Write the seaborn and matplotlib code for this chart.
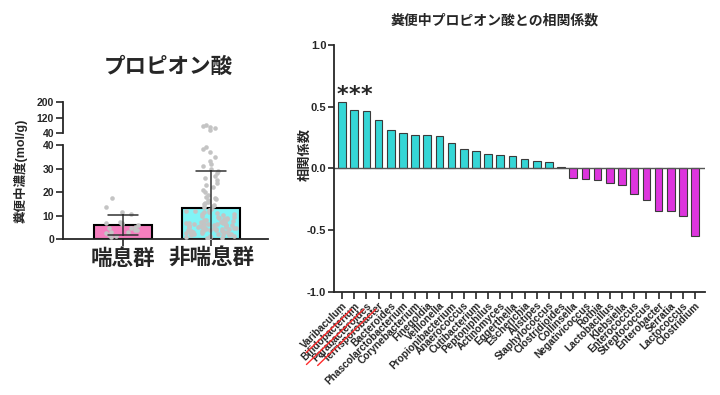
import numpy as np
import pandas as pd
import matplotlib
matplotlib.use("Agg")
import matplotlib.pyplot as plt
from matplotlib.lines import Line2D
import seaborn as sns

#########################
# data : propionate concentration (left panel)
groups = ["喘息群", "非喘息群"]
asthma = [17.4, 13.8, 11.4, 10.8, 7.2, 7.0, 6.8, 6.5, 6.0, 5.0,
          4.5, 4.5, 4.0, 3.8, 3.0, 2.8, 2.5, 1.5, 1.2, 0.8]
non_asthma = [82.0, 77.0, 71.0, 65.0, 58.0,
              39.5, 38.5, 37.0, 35.0, 33.5, 32.0, 31.0, 30.0, 29.0,
              28.0, 27.0, 26.0, 25.0, 24.0, 23.0, 22.0, 21.0, 20.0, 19.0, 18.0,
              17.5, 17.0, 16.5, 16.0, 15.5, 15.0, 14.5, 14.0, 13.5, 13.0, 12.5, 12.0, 12.0,
              0.3, 0.5, 0.6, 0.8, 1.0, 1.1, 1.3, 1.5, 1.6, 1.8,
              2.0, 2.1, 2.2, 2.3, 2.4, 2.6, 2.7, 2.9, 3.0, 3.1,
              3.2, 3.3, 3.4, 3.5, 3.6, 3.8, 3.9, 4.0, 4.1, 4.2,
              4.3, 4.4, 4.5, 4.6, 4.7, 4.8, 5.0, 5.1, 5.2, 5.3,
              5.4, 5.5, 5.6, 5.7, 5.8, 5.9, 6.0, 6.1, 6.2, 6.3,
              6.4, 6.5, 6.7, 6.8, 7.0, 7.1, 7.3, 7.4, 7.6, 7.8,
              8.0, 8.2, 8.4, 8.6, 8.8, 9.0, 9.3, 9.6, 9.9, 10.2,
              10.5, 10.8, 11.1, 11.4, 11.7]

# data : correlation with propionate (right panel)
genera = ["Varibaculum", "Bifidobacterium", "Parabacteroides", "Terrisporobacter",
          "Bacteroides", "Phascolarctobacterium", "Corynebacterium", "Finegoldia",
          "Veillonella", "Propionibacterium", "Anaerococcus", "Cutibacterium",
          "Peptoniphilus", "Actinomyces", "Eggerthella", "Escherichia", "Alistipes",
          "Staphylococcus", "Clostridioides", "Collinsella", "Negativicoccus", "Rothia",
          "Lactobacillus", "Klebsiella", "Enterococcus", "Streptococcus", "Enterobacter",
          "Serratia", "Lactococcus", "Clostridium"]
corr = [0.535, 0.476, 0.467, 0.394, 0.312, 0.288, 0.272, 0.269, 0.266, 0.209,
        0.160, 0.144, 0.120, 0.109, 0.098, 0.076, 0.062, 0.054, 0.012,
        -0.081, -0.089, -0.094, -0.116, -0.132, -0.210, -0.258, -0.347, -0.347,
        -0.382, -0.548]
starred = ["Varibaculum", "Bifidobacterium", "Parabacteroides"]

group_colors = {"喘息群": "#f57fbf", "非喘息群": "#80f4f6"}
sign_colors = {"pos": "#35d6d6", "neg": "#dd35dd"}
dot_color = "#c4c4c4"

#########################
# style
sns.set_style("ticks")
plt.rcParams["font.family"] = ["Liberation Sans", "Noto Sans CJK JP", "DejaVu Sans"]
plt.rcParams["axes.linewidth"] = 1.3
plt.rcParams["xtick.major.width"] = 1.2
plt.rcParams["ytick.major.width"] = 1.2

fig = plt.figure(figsize=(7.2, 3.95), dpi=100)

#########################
# left panel: broken y axis
df_conc = pd.DataFrame({
    "group": [groups[0]] * len(asthma) + [groups[1]] * len(non_asthma),
    "value": asthma + non_asthma,
})
# dense low values are spread wider than the sparse tail (like the original scatter)
df_conc["band"] = np.where((df_conc["group"] == groups[1]) & (df_conc["value"] > 12.2),
                           "tail", "body")
jitters = {(groups[0], "body"): 0.2, (groups[1], "body"): 0.29, (groups[1], "tail"): 0.09}

ax_lo = fig.add_axes([0.0875, 0.395, 0.285, 0.237])
ax_hi = fig.add_axes([0.0875, 0.6625, 0.285, 0.079])

sns.barplot(data=df_conc, x="group", y="value", hue="group", order=groups,
            hue_order=groups, palette=group_colors, saturation=1, errorbar="sd",
            capsize=0.34, width=0.65, edgecolor="black", linewidth=1.5, legend=False,
            err_kws={"color": "#333333", "linewidth": 1.1}, ax=ax_lo)
for ln in ax_lo.lines:
    ln.set_zorder(5)

for ax, lim in [(ax_lo, (0, 40)), (ax_hi, (40, 200))]:
    sub = df_conc[(df_conc["value"] >= lim[0]) & (df_conc["value"] <= lim[1])]
    for (g, b), jit in jitters.items():
        part = sub[(sub["group"] == g) & (sub["band"] == b)]
        if len(part) == 0:
            continue
        np.random.seed(11)
        sns.stripplot(data=part, x="group", y="value", order=groups, color=dot_color,
                      size=3.3, jitter=jit, linewidth=0, ax=ax, zorder=3)
    ax.set_ylim(*lim)
    ax.set_xlim(-0.68, 1.65)
    ax.set_xlabel("")
    ax.set_ylabel("")

ax_lo.set_yticks([0, 10, 20, 30, 40])
ax_hi.set_yticks([40, 120, 200])
ax_lo.spines[["top", "right"]].set_visible(False)
ax_hi.spines[["top", "right", "bottom"]].set_visible(False)
ax_hi.set_xticks([])
ax_lo.tick_params(axis="x", labelsize=15.5, length=5, pad=2)
for t in ax_lo.get_xticklabels():
    t.set_fontweight("bold")
for ax in (ax_lo, ax_hi):
    ax.tick_params(axis="y", labelsize=7.5, length=5, pad=1.5)
    for t in ax.get_yticklabels():
        t.set_fontweight("bold")

fig.text(0.168 / 0.72, 0.83, "プロピオン酸", ha="center", va="center",
         fontsize=15.5, fontweight="bold")
fig.text(0.029, 0.567, "糞便中濃度(mol/g)", ha="center", va="center",
         rotation=90, fontsize=9, fontweight="bold")

#########################
# right panel: correlation bars
df_corr = pd.DataFrame({"genus": genera, "r": corr})
df_corr["sign"] = np.where(df_corr["r"] >= 0, "pos", "neg")

ax_r = fig.add_axes([0.4639, 0.2608, 0.5153, 0.6253])
sns.barplot(data=df_corr, x="genus", y="r", hue="sign", palette=sign_colors,
            saturation=1, dodge=False, width=0.63, edgecolor="#3a3a3a",
            linewidth=0.8, legend=False, ax=ax_r)
ax_r.axhline(0, color="#555555", lw=1.0, zorder=1)
ax_r.set_ylim(-1.0, 1.0)
ax_r.set_xlim(-0.66, 29.82)
ax_r.set_yticks([-1.0, -0.5, 0.0, 0.5, 1.0])
ax_r.set_yticklabels(["-1.0", "-0.5", "0.0", "0.5", "1.0"])
ax_r.spines[["top", "right"]].set_visible(False)
ax_r.set_xlabel("")
ax_r.set_ylabel("")
ax_r.tick_params(axis="y", labelsize=8, length=4, pad=1.5)
ax_r.tick_params(axis="x", length=5, pad=1)
for t in ax_r.get_yticklabels():
    t.set_fontweight("bold")
ax_r.set_xticks(range(len(genera)))
ax_r.set_xticklabels(genera, rotation=45, ha="right", rotation_mode="anchor",
                     fontsize=7.3, fontweight="bold")

star_y = corr[0] + 0.06
for i, g in enumerate(genera):
    if g in starred:
        ax_r.text(i, star_y, "*", ha="center", va="center", fontsize=16,
                  fontweight="bold", family="DejaVu Sans")

fig.text(0.6875, 0.949, "糞便中プロピオン酸との相関係数", ha="center", va="center",
         fontsize=10, fontweight="bold")
fig.text(0.424, 0.61, "相関係数", ha="center", va="center", rotation=90,
         fontsize=9.5, fontweight="bold")

# red underlines below the three significant genera
fig.canvas.draw()
inv = fig.transFigure.inverted()
for lab in ax_r.get_xticklabels():
    if lab.get_text() in starred:
        bb = lab.get_window_extent()
        h = 0.707 * 9.0
        p0 = inv.transform((bb.x0 + h + 0.5, bb.y0 - 2.5))
        p1 = inv.transform((bb.x1 + 2.5, bb.y1 - h - 2.5))
        fig.add_artist(Line2D([p0[0], p1[0]], [p0[1], p1[1]], color="#ff2a2a", lw=1.0))

fig.savefig("out.png", dpi=100)
